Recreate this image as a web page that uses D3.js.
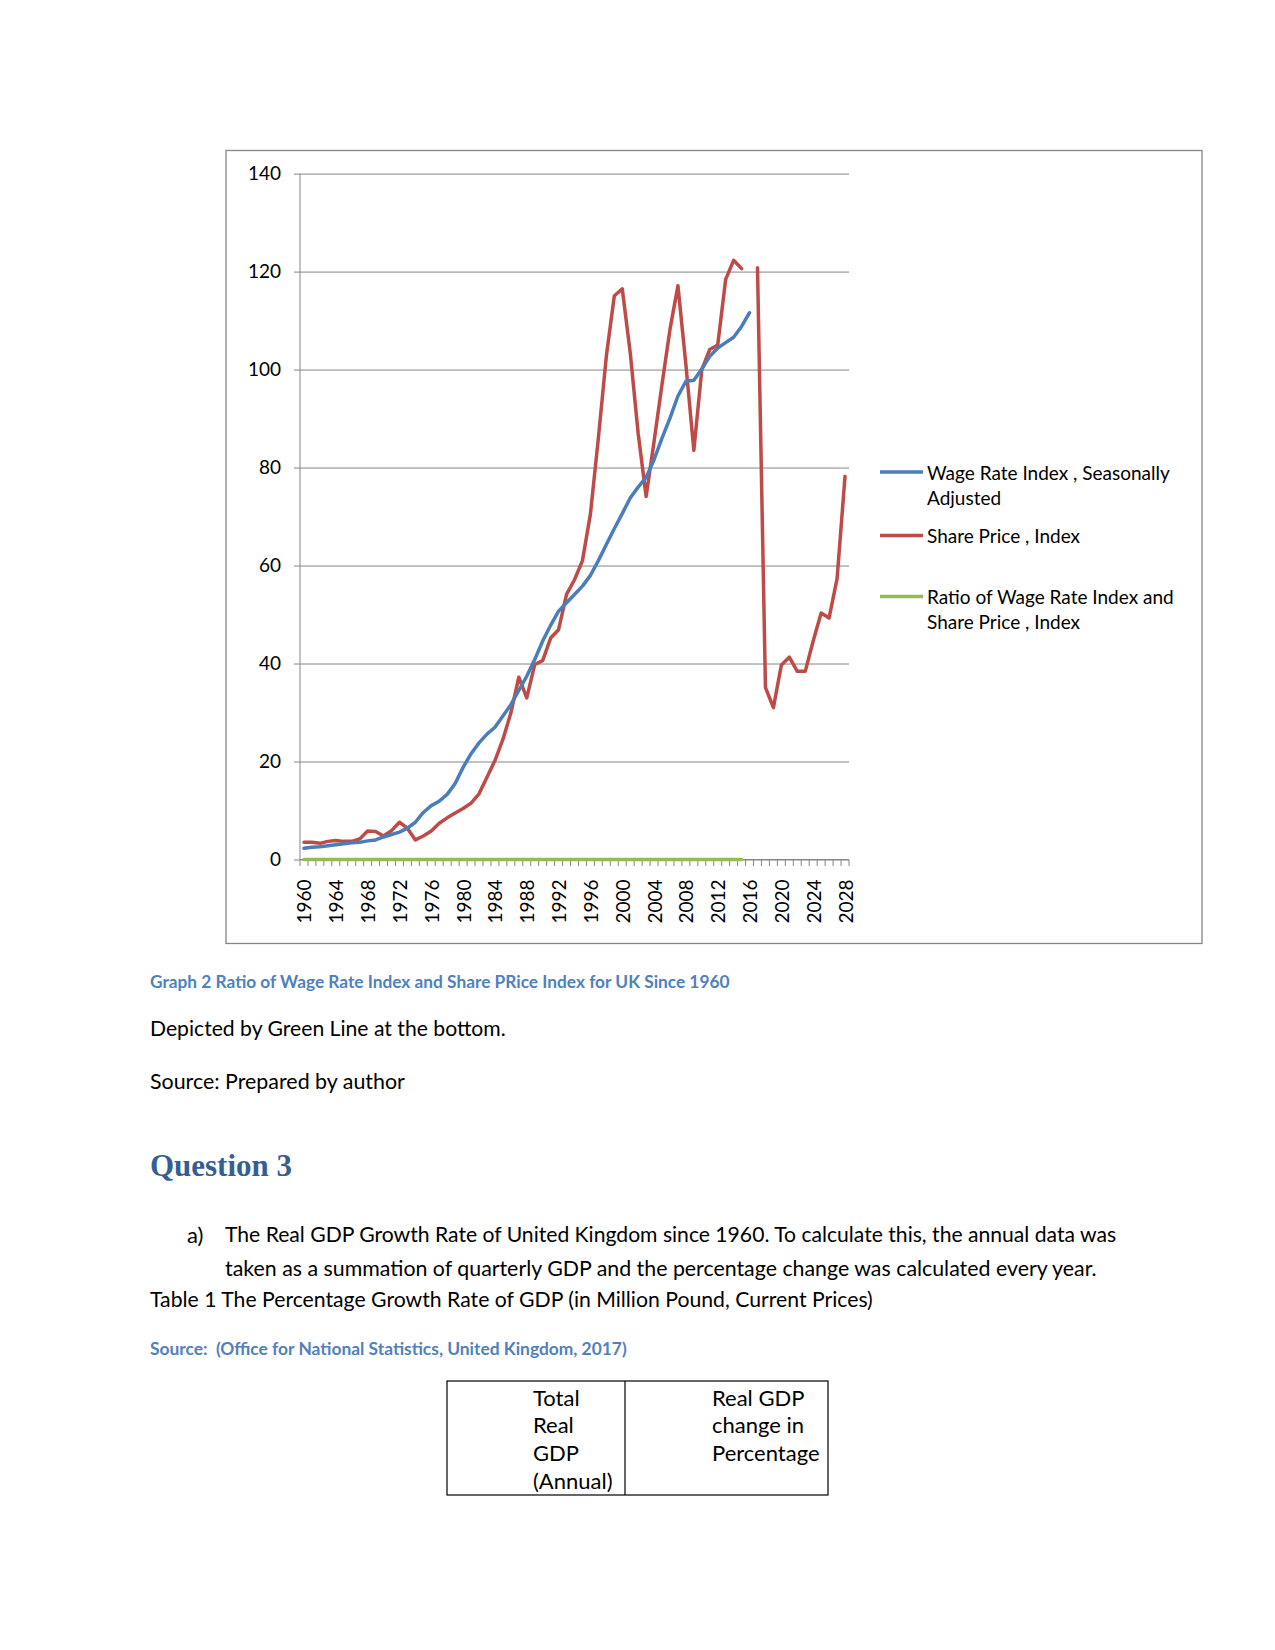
<!DOCTYPE html>
<html><head><meta charset="utf-8">
<script src="https://cdn.jsdelivr.net/npm/d3@7/dist/d3.min.js"></script>
<style>
body{margin:0;background:#fff}
svg{display:block}
</style>
</head><body>
<div id="chart"></div>
<script>
// ---------- DATA ----------
const years = [1960,1961,1962,1963,1964,1965,1966,1967,1968,1969,1970,1971,1972,1973,1974,1975,1976,1977,1978,1979,
1980,1981,1982,1983,1984,1985,1986,1987,1988,1989,1990,1991,1992,1993,1994,1995,1996,1997,1998,1999,
2000,2001,2002,2003,2004,2005,2006,2007,2008,2009,2010,2011,2012,2013,2014,2015,2016,2017,2018,2019,
2020,2021,2022,2023,2024,2025,2026,2027,2028];
const xTickLabels = ["1960","1964","1968","1972","1976","1980","1984","1988","1992","1996","2000","2004","2008","2012","2016","2020","2024","2028"];
const yTicks = [0,20,40,60,80,100,120,140];

// Wage Rate Index, Seasonally Adjusted (1960-2016)
const wageRate = [2.3,2.5,2.6,2.8,3.0,3.2,3.4,3.5,3.8,4.0,4.6,5.1,5.6,6.4,7.6,9.6,11.0,11.9,13.3,15.5,
18.8,21.6,23.8,25.6,27.0,29.3,31.6,34.5,37.4,40.8,44.6,47.8,50.7,52.4,54.1,55.8,58.0,61.0,64.3,67.5,
70.6,73.8,76.0,78.0,81.6,86.0,90.1,94.6,97.6,97.8,100.1,102.7,104.4,105.5,106.6,108.8,111.6];

// Share Price, Index (1960-2028, gap at 2016)
const sharePrice = [3.5,3.5,3.3,3.7,3.9,3.7,3.7,4.2,5.8,5.7,4.8,5.9,7.6,6.4,4.0,4.8,5.8,7.4,8.5,9.5,
10.4,11.5,13.4,16.8,20.2,24.5,29.9,37.2,33.0,39.8,40.6,45.2,46.9,54.1,57.1,61.0,70.5,86.0,102.7,115.0,
116.5,103.5,87.0,74.1,85.3,97.0,108.2,117.1,101.0,83.5,100.0,104.1,105.0,118.4,122.3,120.6,null,120.8,35.1,31.0,
39.7,41.3,38.4,38.4,44.6,50.3,49.3,57.3,78.2];

// Ratio of Wage Rate Index and Share Price, Index (1960-2015)
const ratio = [0,0,0,0,0,0,0,0,0,0,0,0,0,0,0,0,0,0,0,0,
0,0,0,0,0,0,0,0,0,0,0,0,0,0,0,0,0,0,0,0,
0,0,0,0,0,0,0,0,0,0,0,0,0,0,0,0];

const seriesNames = [
  ["Wage Rate Index , Seasonally","Adjusted"],
  ["Share Price , Index"],
  ["Ratio of Wage Rate Index and","Share Price , Index"]
];
const seriesColors = ["#4A7EBB","#BE4B48","#98B954"];

// ---------- LAYOUT ----------
const W = 1275, H = 1650;
const svg = d3.select("#chart").append("svg").attr("width",W).attr("height",H)
  .style("font-family","Lato, 'Open Sans', sans-serif");
svg.append("rect").attr("width",W).attr("height",H).attr("fill","#fff");

const grey = "#868686";
const plot = {left:300, right:849, top:173.6, bottom:859.5};

// chart frame
svg.append("rect").attr("x",226).attr("y",150.5).attr("width",976).attr("height",793)
  .attr("fill","none").attr("stroke",grey).attr("stroke-width",1.3);

const x = d3.scaleBand().domain(years).range([plot.left, plot.right]).padding(0);
const cx = yr => x(yr) + x.bandwidth()/2;
const y = d3.scaleLinear().domain([0,140]).range([plot.bottom, plot.top]);

// gridlines + y axis
const yAxis = d3.axisLeft(y).tickValues(yTicks).tickSize(-(plot.right-plot.left)).tickPadding(19).tickSizeOuter(0);
const gy = svg.append("g").attr("transform",`translate(${plot.left},0)`).call(yAxis);
gy.attr("font-family",null).attr("font-size",null);
gy.select(".domain").remove();
gy.selectAll(".tick line").attr("stroke",grey).attr("stroke-width",1).attr("x1",-6);
gy.selectAll(".tick text").attr("font-size",19).attr("fill","#000");
svg.append("line").attr("x1",plot.left).attr("x2",plot.left).attr("y1",plot.top).attr("y2",plot.bottom)
  .attr("stroke",grey).attr("stroke-width",1);

// x axis (category ticks at boundaries)
const gx = svg.append("g").attr("transform",`translate(0,${plot.bottom})`);
gx.append("line").attr("x1",plot.left).attr("x2",plot.right).attr("stroke",grey).attr("stroke-width",1);
const bounds = years.map(yr => x(yr)).concat([plot.right]);
gx.selectAll("line.tk").data(bounds).join("line").attr("class","tk")
  .attr("x1",d=>d).attr("x2",d=>d).attr("y1",0).attr("y2",6.5).attr("stroke",grey).attr("stroke-width",1);
gx.selectAll("text").data(xTickLabels).join("text")
  .attr("transform",d=>`translate(${cx(+d)},${20}) rotate(-90)`)
  .attr("text-anchor","end").attr("dominant-baseline","central")
  .attr("font-size",19).attr("fill","#000").text(d=>d);

// lines
const line = d3.line().defined(d=>d.v!==null).x(d=>cx(d.yr)).y(d=>y(d.v));
const toPts = arr => arr.map((v,i)=>({yr:years[i], v}));
[ratio, sharePrice, wageRate].forEach((arr,k)=>{
  const col = [seriesColors[2], seriesColors[1], seriesColors[0]][k];
  svg.append("path").datum(toPts(arr)).attr("d",line).attr("fill","none")
    .attr("stroke",col).attr("stroke-width",3.5).attr("stroke-linejoin","round").attr("stroke-linecap","round");
});

// legend
const legY = [472, 535.5, 596.5];
seriesNames.forEach((lines,i)=>{
  svg.append("line").attr("x1",880).attr("x2",923).attr("y1",legY[i]).attr("y2",legY[i])
    .attr("stroke",seriesColors[i]).attr("stroke-width",3.5);
  lines.forEach((t,j)=>{
    svg.append("text").attr("x",927).attr("y",legY[i]+j*25).attr("dominant-baseline","central")
      .attr("font-size",19).attr("fill","#000").text(t);
  });
});

// ---------- document text ----------
function txt(s, xx, yy, opts={}){
  const t = svg.append("text").attr("x",xx).attr("y",yy).attr("dominant-baseline","central")
    .attr("font-size",opts.size||22).attr("fill",opts.color||"#000")
    .attr("font-weight",opts.weight||"normal").style("white-space","pre").text(s);
  if(opts.family) t.style("font-family",opts.family);
  if(opts.width){
    const l = t.node().getComputedTextLength();
    t.attr("font-size",(opts.size||22)*opts.width/l);
  }
  return t;
}
txt("Graph 2 Ratio of Wage Rate Index and Share PRice Index for UK Since 1960",150,981.5,{size:18,weight:"bold",color:"#4F81BD",width:580});
txt("Depicted by Green Line at the bottom.",150,1028,{size:22,width:356});
txt("Source: Prepared by author",150,1080.5,{size:22,width:255});
txt("Question 3",150,1165.6,{size:29,weight:"bold",color:"#365F91",family:"'Liberation Serif', 'DejaVu Serif', serif",width:142});
txt("a)",187,1234,{size:22});
txt("The Real GDP Growth Rate of United Kingdom since 1960. To calculate this, the annual data was",225,1234,{size:22,width:892});
txt("taken as a summation of quarterly GDP and the percentage change was calculated every year.",225,1267.7,{size:22,width:872});
txt("Table 1 The Percentage Growth Rate of GDP (in Million Pound, Current Prices)",150,1299,{size:22,width:723});
txt("Source:  (Office for National Statistics, United Kingdom, 2017)",150,1348.6,{size:18,weight:"bold",color:"#4F81BD",width:477});

// table
svg.append("rect").attr("x",447).attr("y",1381).attr("width",381).attr("height",114)
  .attr("fill","none").attr("stroke","#000").attr("stroke-width",1.2);
svg.append("line").attr("x1",625).attr("x2",625).attr("y1",1381).attr("y2",1495).attr("stroke","#000").attr("stroke-width",1.2);
["Total","Real","GDP","(Annual)"].forEach((s,i)=>txt(s,533,1397+i*27.7,{size:22}));
["Real GDP","change in","Percentage"].forEach((s,i)=>txt(s,712,1397+i*27.7,{size:22}));
</script>
</body></html>
